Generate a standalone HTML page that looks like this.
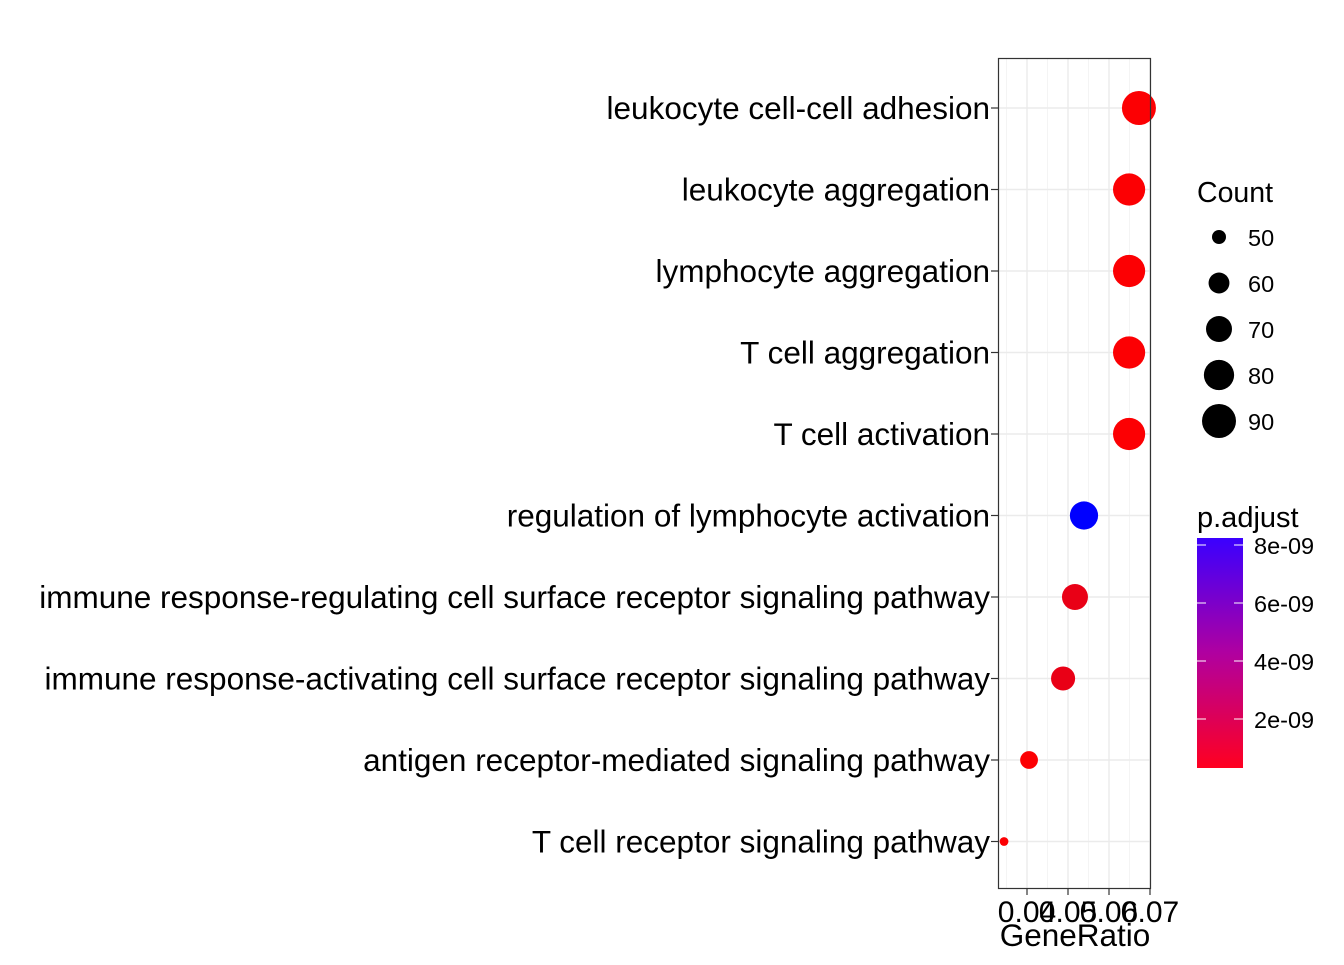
<!DOCTYPE html>
<html><head><meta charset="utf-8"><style>
body{margin:0;background:#fff;font-family:"Liberation Sans",sans-serif;}
svg text{font-family:"Liberation Sans",sans-serif;}
</style></head><body>
<svg width="1344" height="960" xmlns="http://www.w3.org/2000/svg">
<defs><linearGradient id="pg" x1="0" y1="1" x2="0" y2="0">
<stop offset="0" stop-color="#ff0020"/><stop offset="0.5" stop-color="#b000a0"/><stop offset="1" stop-color="#3a00ff"/></linearGradient></defs>
<g id="grid"></g>
<g id="dots"></g>
<rect x="998.5" y="58.5" width="152" height="830" fill="none" stroke="#333" stroke-width="1.2"/>
<g id="ylab"></g>
<g id="xlab"></g>
<text x="1075" y="946" font-size="31.5" text-anchor="middle">GeneRatio</text>
<g>
<text x="1197" y="202" font-size="28.5">Count</text>
<g id="cleg"></g></g>
<g>
<text x="1197" y="527" font-size="29">p.adjust</text>
<rect x="1197" y="538" width="46" height="230" fill="url(#pg)"/>
<g id="pleg"></g></g>
</svg>
<script>
const terms=["leukocyte cell-cell adhesion","leukocyte aggregation","lymphocyte aggregation","T cell aggregation","T cell activation","regulation of lymphocyte activation","immune response-regulating cell surface receptor signaling pathway","immune response-activating cell surface receptor signaling pathway","antigen receptor-mediated signaling pathway","T cell receptor signaling pathway"];
const geneRatio=[0.0673,0.0649,0.0649,0.0649,0.0649,0.0539,0.0517,0.0488,0.0405,0.0344];
const counts=[90,85,85,85,85,75,70,66,55,45];
const padj=[0.1e-9,0.1e-9,0.1e-9,0.1e-9,0.1e-9,8.2e-9,0.7e-9,0.7e-9,0.1e-9,0.1e-9];
const xTicks=[0.04,0.05,0.06,0.07];
const countTicks=[50,60,70,80,90];
const pTicks=[2e-9,4e-9,6e-9,8e-9];
const NS="http://www.w3.org/2000/svg";
const xs=v=>1027+(v-0.04)*4100;
const ys=i=>108+i*81.5;
const rs=c=>Math.sqrt(Math.max(4,49+6*(c-50)));
const py=p=>777-p*2.9e10;
function col(p){const t=Math.min(1,Math.max(0,p/8.2e-9));return `rgb(${Math.round(255*(1-t))},0,${Math.round(255*t)})`;}
function mk(tag,at,parent){const e=document.createElementNS(NS,tag);for(const k in at)e.setAttribute(k,at[k]);document.getElementById(parent).appendChild(e);return e;}
for(let k=0;k<xTicks.length;k++){
 const v=xTicks[k];
 let g=mk('line',{x1:xs(v),x2:xs(v),y1:58,y2:888,stroke:'#ebebeb','stroke-width':1.4},'grid');
 
 
 if(k<xTicks.length-1){let m=mk('line',{x1:xs(v+0.005),x2:xs(v+0.005),y1:58,y2:888,stroke:'#f2f2f2','stroke-width':0.8},'grid');
 
 }
 let t=mk('line',{x1:xs(v),x2:xs(v),y1:888,y2:895,stroke:'#333','stroke-width':1.2},'xlab');
 
 
 let l=mk('text',{x:xs(v),y:922,'font-size':30,'text-anchor':'middle'},'xlab');l.textContent=v.toFixed(2);
 
 
}
{let m=mk('line',{x1:xs(0.035),x2:xs(0.035),y1:58,y2:888,stroke:'#f2f2f2','stroke-width':0.8},'grid');
 
 }
terms.forEach((t,i)=>{
 let g=mk('line',{x1:998,x2:1151,y1:ys(i),y2:ys(i),stroke:'#ebebeb','stroke-width':1.4},'grid');
 
 
 let tk=mk('line',{x1:991,x2:998,y1:ys(i),y2:ys(i),stroke:'#333','stroke-width':1.2},'ylab');
 
 
 let l=mk('text',{x:990,y:ys(i)+11,'font-size':31.5,'text-anchor':'end'},'ylab');l.textContent=t;
 
 
 let c=mk('circle',{cx:xs(geneRatio[i]),cy:ys(i),r:rs(counts[i]),fill:col(padj[i])},'dots');
 
 
});
countTicks.forEach((c,i)=>{
 const y=237+i*46;
 let e=mk('circle',{cx:1219,cy:y,r:rs(c),fill:'#000'},'cleg');
 
 
 let l=mk('text',{x:1248,y:y+9,'font-size':23.5},'cleg');l.textContent=c;
 
 
});
pTicks.forEach(p=>{
 const y=py(p);
 ['1197','1234'].forEach(x=>{let t=mk('line',{x1:+x,x2:+x+9,y1:y,y2:y,stroke:'#fff','stroke-width':1},'pleg');
 
 });
 let l=mk('text',{x:1254,y:y+9,'font-size':23.5},'pleg');l.textContent=(p/1e-9)+'e-09';
 
 
});
</script>
</body></html>
